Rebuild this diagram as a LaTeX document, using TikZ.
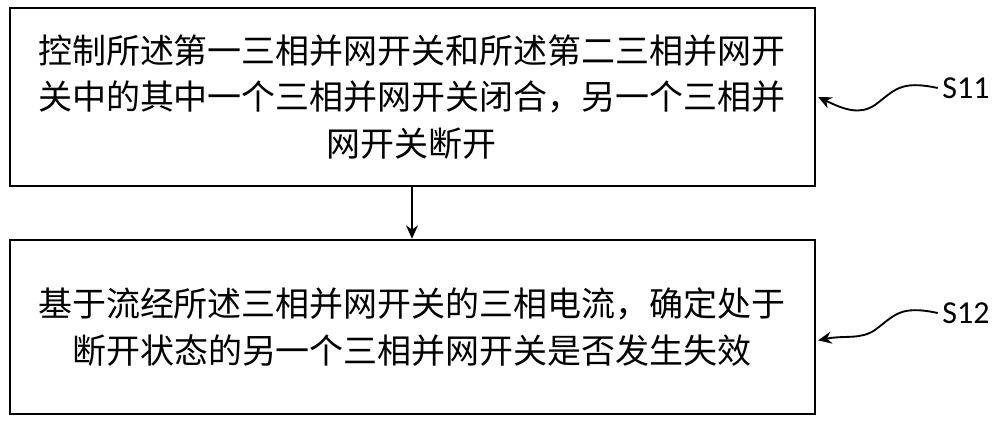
\documentclass[tikz,border=0pt]{standalone}
\usepackage{fontspec}
\setmainfont{Carlito}
\newfontfamily\cjk{Noto Sans CJK SC}
\usetikzlibrary{arrows.meta}
\begin{document}
\begin{tikzpicture}[x=0.75pt,y=-0.75pt,
  box/.style={draw,line width=1.5pt,minimum width=603.75pt,align=center,font=\cjk\fontsize{25.5}{35}\selectfont,inner sep=0pt},
  arr/.style={-{Stealth[length=10pt,width=9pt]},line width=1.4pt},
  lbl/.style={font=\fontsize{24}{28}\selectfont}]
\useasboundingbox (0,0) rectangle (1000,424);
\node[box,minimum height=134pt] (b1) at (412,97) {控制所述第一三相并网开关和所述第二三相并网开\\关中的其中一个三相并网开关闭合，另一个三相并\\网开关断开};
\node[box,minimum height=131pt] (b2) at (412,327) {基于流经所述三相并网开关的三相电流，确定处于\\断开状态的另一个三相并网开关是否发生失效};
\draw[arr] (b1.south) -- (b2.north);
\node[lbl] (s1) at (966,88) {S11};
\node[lbl] (s2) at (966,313) {S12};
\coordinate (e1) at ([xshift=2pt,yshift=0pt]b1.east);
\coordinate (e2) at ([xshift=2pt,yshift=-10pt]b2.east);
\draw[arr] (s1.west) .. controls (900,80) and (895,90) .. (875,105) .. controls (860,115) and (845,110) .. (e1);
\draw[arr] (s2.west) .. controls (900,305) and (895,315) .. (875,330) .. controls (860,340) and (845,335) .. (e2);
\end{tikzpicture}
\end{document}
